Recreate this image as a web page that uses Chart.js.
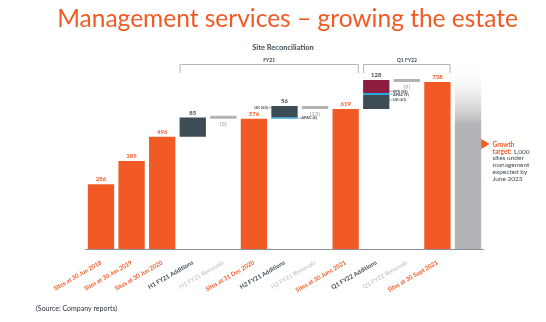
<!DOCTYPE html>
<html>
<head>
<meta charset="utf-8">
<script src="https://cdn.jsdelivr.net/npm/chart.js@4"></script>
<style>
  body { margin: 0; background: #fff; }
  canvas { display: block; }
</style>
</head>
<body>
<canvas id="myChart" width="546" height="322"></canvas>
<script>
// Categorias del eje x
const categories = [
    'Sites at 30 Jun 2018', 'Sites at 30 Jun 2019', 'Sites at 30 Jun 2020',
    'H1 FY21 Additions', 'H1 FY21 Removals', 'Sites at 31 Dec 2020',
    'H2 FY21 Additions', 'H2 FY21 Removals', 'Sites at 30 June 2021',
    'Q1 FY22 Additions', 'Q1 FY22 Removals', 'Sites at 30 Sept 2021',
    ''
];
// Totales de sitios (barras naranjas)
const siteTotals = [286, 389, 496, 576, 619, 738];
const totalIndex = [0, 1, 2, 5, 8, 11];
// Altas y bajas por periodo (H1 FY21, H2 FY21, Q1 FY22)
const additionsUK = [85, 50, 61];   // H1 sin desglose
const additionsAPAC = [0, 6, 9];
const additionsEPS = [0, 0, 58];
const removals = [5, 13, 9];
const addIndex = [3, 6, 9];
const growthTarget = 1000;

const orange = '#f15a24';
const slate = '#3e4c56';
const blue = '#29a8e0';
const maroon = '#8c1d3c';
const lightGray = '#b3b3b3';

const n = categories.length;
const empty = () => new Array(n).fill(null);

// barras del waterfall
const totalData = empty();
totalIndex.forEach((idx, k) => totalData[idx] = siteTotals[k]);

const ukData = empty(), apacData = empty(), epsData = empty(), remData = empty();
additionsUK.forEach((uk, k) => {
    const start = siteTotals[k + 2];
    const i = addIndex[k];
    let top;
    if (k === 1) { // APAC abajo, UK arriba
        apacData[i] = [start, start + additionsAPAC[k]];
        ukData[i] = [start + additionsAPAC[k], start + additionsAPAC[k] + uk];
        top = start + additionsAPAC[k] + uk;
    } else {
        ukData[i] = [start, start + uk];
        let s = start + uk;
        if (additionsAPAC[k]) { apacData[i] = [s, s + additionsAPAC[k]]; s += additionsAPAC[k]; }
        if (additionsEPS[k]) { epsData[i] = [s, s + additionsEPS[k]]; s += additionsEPS[k]; }
        top = s;
    }
    remData[i + 1] = [top - removals[k], top];
});
const growthData = empty();
growthData[n - 1] = growthTarget;

const tickColor = i => {
    const c = categories[i];
    if (c.startsWith('Sites')) return orange;
    if (c.includes('Additions')) return slate;
    return '#b8b8b8';
};

const labelsPlugin = {
    id: 'labelsPlugin',
    afterDraw(chart) {
        const { ctx } = chart;
        const x = chart.scales.x, y = chart.scales.y;
        const font = (w, s) => w + ' ' + s + 'px Lato, "Open Sans", sans-serif';
        ctx.save();

        // titulo
        ctx.fillStyle = orange;
        ctx.font = font('normal', 24.5);
        ctx.textAlign = 'center';
        ctx.textBaseline = 'alphabetic';
        ctx.fillText('Management services \u2013 growing the estate', 287.5, 26.5);

        ctx.fillStyle = slate;
        ctx.font = font('bold', 7.5);
        ctx.textBaseline = 'middle';
        ctx.fillText('Site Reconciliation', 283, 47.5);

        // corchetes
        const half = x.getPixelForValue(1) - x.getPixelForValue(0);
        const bracket = (a, b, text) => {
            const l = x.getPixelForValue(a) - half * 0.43;
            const r = x.getPixelForValue(b) + half * 0.43;
            ctx.strokeStyle = '#b5b5b5';
            ctx.lineWidth = 1;
            ctx.beginPath();
            ctx.moveTo(l + 0.5, 73);
            ctx.lineTo(l + 0.5, 64.5);
            ctx.lineTo(r - 0.5, 64.5);
            ctx.lineTo(r - 0.5, 73);
            ctx.stroke();
            ctx.fillStyle = slate;
            ctx.font = font('bold', 5);
            ctx.textBaseline = 'bottom';
            ctx.fillText(text, (l + r) / 2, 63);
        };
        bracket(3, 8, 'FY21');
        bracket(9, 11, 'Q1 FY22');

        // etiquetas de totales
        ctx.textAlign = 'center';
        totalIndex.forEach((idx, k) => {
            ctx.fillStyle = orange;
            ctx.font = font('bold', 6);
            ctx.textBaseline = 'bottom';
            ctx.fillText(String(siteTotals[k]), x.getPixelForValue(idx), y.getPixelForValue(siteTotals[k]) - 2);
        });

        // altas y bajas
        addIndex.forEach((idx, k) => {
            const add = additionsUK[k] + additionsAPAC[k] + additionsEPS[k];
            const top = remData[idx + 1][1];
            ctx.fillStyle = slate;
            ctx.font = font('bold', 6);
            ctx.textBaseline = 'bottom';
            ctx.textAlign = 'center';
            ctx.fillText(String(add), x.getPixelForValue(idx), y.getPixelForValue(top) - 1.5);
            ctx.fillStyle = '#9a9a9a';
            ctx.font = font('normal', 6);
            ctx.textBaseline = 'top';
            ctx.fillText('(' + removals[k] + ')', x.getPixelForValue(idx + 1), y.getPixelForValue(remData[idx + 1][0]) + 2.5);
        });

        // desglose por region
        const barRight = i => x.getPixelForValue(i) + half * 0.43;
        const barLeft = i => x.getPixelForValue(i) - half * 0.43;
        const side = (text, xs, yv, align) => {
            ctx.fillStyle = slate;
            ctx.font = font('bold', 4);
            ctx.textBaseline = 'middle';
            ctx.textAlign = align;
            const py = y.getPixelForValue(yv);
            ctx.strokeStyle = slate;
            ctx.lineWidth = 0.5;
            ctx.beginPath();
            if (align === 'left') { ctx.moveTo(xs, py); ctx.lineTo(xs + 3, py); }
            else { ctx.moveTo(xs, py); ctx.lineTo(xs - 3, py); }
            ctx.stroke();
            ctx.fillText(text, align === 'left' ? xs + 3.5 : xs - 3.5, py);
        };
        side('UK (' + additionsUK[1] + ')', barLeft(6), ukData[6][1] - 8, 'right');
        side('APAC (' + additionsAPAC[1] + ')', barRight(6), apacData[6][1] - 3, 'left');
        side('EPS (' + additionsEPS[2] + ')', barRight(9), epsData[9][0] + 8, 'left');
        side('APAC (' + additionsAPAC[2] + ')', barRight(9), apacData[9][0] + 4, 'left');
        side('UK (' + additionsUK[2] + ')', barRight(9), ukData[9][0] + 40, 'left');

        // objetivo de crecimiento
        const gx = barRight(n - 1);
        ctx.fillStyle = orange;
        ctx.beginPath();
        ctx.moveTo(gx, 139);
        ctx.lineTo(gx + 8.5, 144);
        ctx.lineTo(gx, 149);
        ctx.closePath();
        ctx.fill();
        ctx.textAlign = 'left';
        ctx.textBaseline = 'middle';
        ctx.font = font('bold', 6.5);
        const tx = 492.5;
        ctx.fillText('Growth', tx, 145);
        ctx.fillText('target:', tx, 151.7);
        const w = ctx.measureText('target: ').width;
        ctx.fillStyle = slate;
        ctx.font = font('normal', 6.5);
        ctx.fillText('1,000', tx + w, 151.7);
        ['sites under', 'management', 'expected by', 'June 2023'].forEach((t, k) => {
            ctx.fillText(t, tx, 158.4 + k * 6.7);
        });

        // fuente
        ctx.fillStyle = '#2c3440';
        ctx.font = font('normal', 7);
        ctx.fillText('(Source: Company reports)', 36, 309);
        ctx.restore();
    }
};

const ctx = document.getElementById('myChart').getContext('2d');
const myChart = new Chart(ctx, {
    type: 'bar',
    data: {
        labels: categories,
        datasets: [
            { data: totalData, backgroundColor: orange },
            { data: ukData, backgroundColor: slate },
            { data: apacData, backgroundColor: blue },
            { data: epsData, backgroundColor: maroon },
            { data: remData, backgroundColor: lightGray, minBarLength: 3 },
            {
                data: growthData,
                backgroundColor: (c) => {
                    const ch = c.chart;
                    if (!ch.chartArea) return '#b2b3b6';
                    const g = ch.ctx.createLinearGradient(0, 63, 0, 125);
                    g.addColorStop(0, 'rgba(255,255,255,0)');
                    g.addColorStop(1, '#b2b3b6');
                    return g;
                }
            }
        ]
    },
    options: {
        responsive: false,
        animation: false,
        layout: { padding: { left: 85.7, right: 62.7, top: 22.7, bottom: 0 } },
        datasets: { bar: { grouped: false, categoryPercentage: 1, barPercentage: 0.86 } },
        scales: {
            x: {
                grid: { display: false },
                border: { display: true, color: '#8a9299', width: 1 },
                afterFit: (s) => { s.height = 73; },
                ticks: {
                    autoSkip: false,
                    minRotation: 30,
                    maxRotation: 30,
                    padding: 2,
                    color: (c) => tickColor(c.index),
                    font: (c) => ({
                        family: 'Lato, "Open Sans", sans-serif',
                        size: 6,
                        weight: categories[c.index].includes('Removals') ? 'normal' : 'bold'
                    })
                }
            },
            y: { display: false, min: 0, max: 1000 }
        },
        plugins: {
            legend: { display: false },
            tooltip: { enabled: false }
        }
    },
    plugins: [labelsPlugin]
});
</script>
</body>
</html>
